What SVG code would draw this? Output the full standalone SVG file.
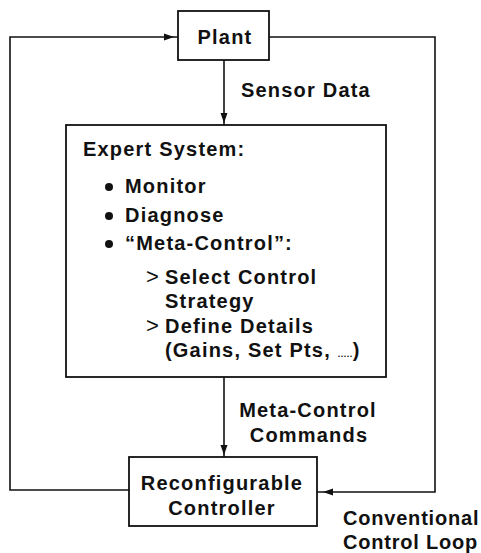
<svg xmlns="http://www.w3.org/2000/svg" width="481" height="553" viewBox="0 0 481 553">
<style>
text{font-family:"Liberation Sans",Arial,sans-serif;font-size:20px;font-weight:bold;letter-spacing:1.2px;fill:#111}
.box{fill:#fff;stroke:#111;stroke-width:1.8}
.ln{fill:none;stroke:#111;stroke-width:1.6}
.ah{fill:#111}
.bul{fill:#111}
.c{text-anchor:middle}
.gt{font-weight:normal;font-size:22px}
.dots{font-size:9px;letter-spacing:0.5px}
</style>
<rect width="481" height="553" fill="#fff"/>
<g id="connectors">
<polyline class="ln" points="129,490 10,490 10,37 178,37"/>
<polygon class="ah" points="174,37 164,33.5 164,40.5"/>
<polyline class="ln" points="269,37 435,37 435,492 317,492"/>
<polygon class="ah" points="323,492 333,488.5 333,495.5"/>
<line class="ln" x1="224" y1="60" x2="224" y2="125"/>
<polygon class="ah" points="224,123 220.5,113 227.5,113"/>
<line class="ln" x1="224" y1="377" x2="224" y2="457"/>
<polygon class="ah" points="224,455 220.5,445 227.5,445"/>
<text x="241" y="97">Sensor Data</text>
<text class="c" x="308" y="417">Meta-Control</text>
<text class="c" x="309" y="442">Commands</text>
<text x="343" y="525" style="letter-spacing:0.8px">Conventional</text>
<text x="343" y="549" style="letter-spacing:0.8px">Control Loop</text>
</g>
<g id="plant">
<rect class="box" x="178" y="11" width="91" height="49"/>
<text class="c" x="225" y="44">Plant</text>
</g>
<g id="expert-system">
<rect class="box" x="66" y="125" width="320" height="252"/>
<text x="83" y="156">Expert System:</text>
<circle class="bul" cx="109" cy="187" r="4"/>
<text x="125" y="193">Monitor</text>
<circle class="bul" cx="109" cy="216" r="4"/>
<text x="125" y="222">Diagnose</text>
<circle class="bul" cx="109" cy="244" r="4"/>
<text x="125" y="250">“Meta-Control”:</text>
<text class="gt" x="146" y="284">&gt;</text>
<text x="165" y="284">Select Control</text>
<text x="165" y="308">Strategy</text>
<text class="gt" x="146" y="333">&gt;</text>
<text x="165" y="333">Define Details</text>
<text x="165" y="357">(Gains, Set Pts, <tspan class="dots">.....</tspan>)</text>
</g>
<g id="reconfigurable-controller">
<rect class="box" x="129" y="457" width="188" height="69"/>
<text class="c" x="222" y="490">Reconfigurable</text>
<text class="c" x="222" y="515">Controller</text>
</g>
</svg>
